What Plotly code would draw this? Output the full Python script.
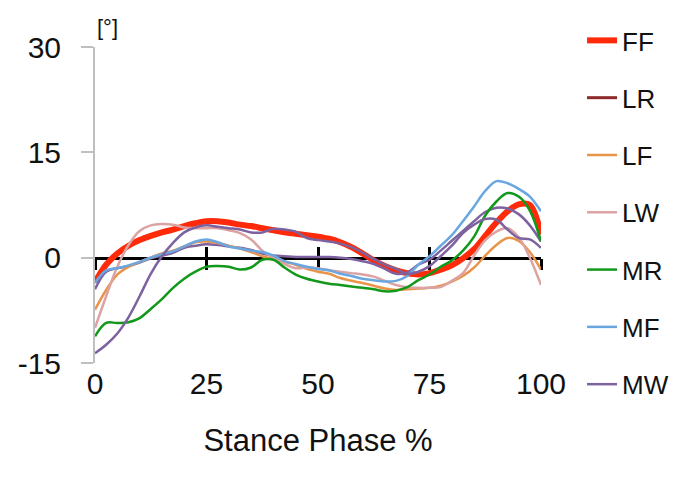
import plotly.graph_objects as go

x_pct = [i * 2.5 for i in range(41)]

ff = [-3.5, -1.0, 0.6, 1.7, 2.5, 3.1, 3.6, 4.0, 4.5, 4.9, 5.2, 5.2, 5.0, 4.7, 4.5, 4.2, 3.9, 3.6, 3.4, 3.2,
      3.0, 2.7, 2.2, 1.5, 0.6, -0.4, -1.2, -1.8, -2.2, -2.4, -2.2, -1.7, -1.1, -0.1, 1.2, 3.1, 5.0, 6.6, 7.6, 7.5, 3.3]
lr = [-4.5, -2.0, -1.5, -1.2, -0.7, -0.1, 0.3, 0.7, 1.4, 1.7, 1.9, 1.8, 1.6, 1.4, 1.1, 0.6, 0.3, 0.2, 0.1, 0.1,
      0.1, 0.1, 0.0, -0.2, -0.5, -0.9, -1.6, -2.3, -2.1, -1.0, -0.3, 1.0, 2.4, 3.8, 5.2, 6.5, 7.1, 7.0, 6.2, 4.6, 2.3]
lf = [-7.4, -4.6, -2.4, -1.3, -0.6, 0.0, 0.6, 1.0, 1.6, 2.2, 2.3, 2.1, 1.7, 1.3, 0.8, 0.2, -0.2, -0.6, -1.0, -1.6,
      -2.0, -2.3, -2.9, -3.3, -3.6, -4.0, -4.4, -4.6, -4.5, -4.4, -4.3, -4.0, -3.4, -2.6, -1.4, 0.3, 1.8, 2.8, 2.4, 0.8, -1.7]
lw = [-10.0, -5.5, -1.3, 1.8, 3.8, 4.6, 4.8, 4.7, 4.3, 4.2, 4.2, 4.2, 3.9, 3.5, 2.6, 1.0, 0.0, -0.9, -1.5, -1.4,
      -1.5, -1.8, -2.0, -2.2, -2.4, -2.7, -3.3, -3.9, -4.2, -4.3, -4.3, -4.2, -3.3, -2.2, 0.3, 2.5, 3.7, 4.2, 2.9, 0.0, -3.9]
mr = [-11.2, -9.3, -9.3, -9.2, -8.6, -7.3, -5.9, -4.3, -3.0, -2.0, -1.3, -1.2, -1.3, -1.7, -1.4, -0.3, -0.3, -1.4, -2.4, -3.0,
      -3.4, -3.7, -3.9, -4.1, -4.3, -4.5, -4.8, -4.7, -4.2, -3.2, -2.4, -1.3, -0.4, 1.0, 3.0, 6.0, 8.0, 9.2, 8.7, 6.7, 2.3]
mf = [-3.6, -1.8, -1.5, -1.1, -0.6, 0.0, 0.5, 0.9, 1.6, 2.3, 2.6, 2.2, 1.6, 1.3, 1.0, 0.8, 0.3, -0.5, -0.9, -1.3,
      -1.6, -1.8, -2.3, -2.6, -3.0, -3.2, -3.4, -3.3, -2.6, -1.0, 0.2, 1.7, 3.2, 5.2, 7.3, 9.5, 10.9, 10.6, 9.8, 8.7, 6.6]
mw = [-13.6, -12.4, -10.8, -8.5, -5.5, -2.3, 0.2, 2.1, 3.6, 4.3, 4.6, 4.4, 4.2, 4.0, 3.6, 3.6, 4.1, 4.0, 3.7, 2.8,
      2.5, 2.3, 2.0, 1.5, 0.7, -0.2, -1.0, -1.6, -2.3, -2.0, -1.2, 0.2, 1.7, 3.5, 4.7, 5.5, 5.4, 4.0, 2.8, 2.6, 1.4]

x_ticks = [0, 25, 50, 75, 100]
y_ticks = [-15, 0, 15, 30]
y_tick_labels = ["-15", "0", "15", "30"]

FONT = "Liberation Sans, Arial, sans-serif"

fig = go.Figure()

def add(name, ys, color, width, show=True):
    fig.add_trace(go.Scatter(x=x_pct, y=ys, mode="lines", name=name, legendgroup=name,
                             showlegend=show, line=dict(color=color, width=width, shape="spline")))

add("FF", ff, "#FF2A0A", 6)
# legend entry for LR (dark red sample)
fig.add_trace(go.Scatter(x=[None], y=[None], mode="lines", name="LR", legendgroup="LR",
                         line=dict(color="#8E2A2A", width=3)))
add("LR", lr, "#7E62A0", 2.5, show=False)
add("LF", lf, "#E8954B", 2.5)
add("LW", lw, "#DCA3A3", 2.5)
add("MR", mr, "#12981A", 2.5)
add("MF", mf, "#6AA6E0", 2.5)
add("MW", mw, "#7D62A0", 2.5)

# carriers for the zero-line axes (no visible data)
for ax in ("x2", "x3"):
    fig.add_trace(go.Scatter(x=[None], y=[None], xaxis=ax, yaxis="y", mode="lines",
                             showlegend=False, hoverinfo="skip"))

fig.update_layout(
    width=686, height=477,
    margin=dict(l=95, r=145, t=47, b=113.5, autoexpand=False),
    paper_bgcolor="white", plot_bgcolor="white",
    font=dict(family=FONT, size=30, color="#111111"),
    showlegend=True,
    legend=dict(x=1.092, y=1.095, xanchor="left", yanchor="top",
                font=dict(size=26, color="#111111"), maxheight=477,
                tracegroupgap=20.5, itemwidth=30, bgcolor="rgba(0,0,0,0)"),
    xaxis=dict(range=[0, 100], tickvals=x_ticks, showline=False, ticks="", showgrid=False,
               zeroline=False, ticklabelstandoff=0, automargin=False,
               title=dict(text="Stance Phase %", standoff=30, font=dict(size=31))),
    yaxis=dict(range=[-15, 30], tickvals=y_ticks, ticktext=y_tick_labels, showline=True,
               linecolor="#BFBFBF", linewidth=2, automargin=False,
               ticks="outside", ticklen=12, tickcolor="#BFBFBF", tickwidth=1.5,
               showgrid=False, zeroline=False, ticklabelstandoff=14),
    xaxis2=dict(range=[0, 100], tickvals=x_ticks, overlaying="x", anchor="free", position=1/3,
                showline=True, linecolor="black", linewidth=2.5, ticks="outside", ticklen=11,
                tickcolor="black", tickwidth=2.5, showticklabels=False, showgrid=False,
                zeroline=False, layer="below traces", automargin=False),
    xaxis3=dict(range=[0, 100], tickvals=x_ticks, overlaying="x", anchor="free", position=1/3,
                showline=False, ticks="inside", ticklen=11, side="bottom",
                tickcolor="black", tickwidth=2.5, showticklabels=False, showgrid=False,
                zeroline=False, layer="below traces", automargin=False),
    annotations=[dict(text="[°]", xref="paper", yref="paper", x=0, y=1, xanchor="left",
                      yanchor="bottom", xshift=0, yshift=5, showarrow=False,
                      font=dict(size=22, color="#111111"))],
)

fig.write_html("out.html", config={"displayModeBar": False},
               post_script="document.body.style.margin='0px';")
